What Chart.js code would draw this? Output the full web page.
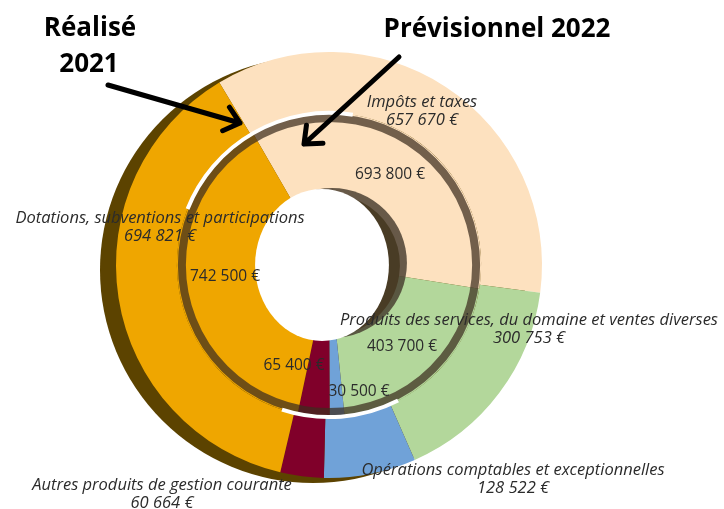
<!DOCTYPE html>
<html>
<head>
<meta charset="utf-8">
<script src="https://cdn.jsdelivr.net/npm/chart.js@4/dist/chart.umd.min.js"></script>
<style>
  html, body { margin: 0; padding: 0; background: #fff; }
  canvas { display: block; }
</style>
</head>
<body>
<canvas id="recettesChart" width="724" height="509"></canvas>
<script>
// Catégories de recettes (ordre horaire à partir des impôts)
var categories = [
    'Impôts et taxes',
    'Produits des services, du domaine et ventes diverses',
    'Opérations comptables et exceptionnelles',
    'Autres produits de gestion courante',
    'Dotations, subventions et participations'
];
var realise2021 = [657670, 300753, 128522, 60664, 694821];       // anneau extérieur
var previsionnel2022 = [693800, 403700, 30500, 65400, 742500];   // anneau intérieur
var couleurs = ['#fde1bf', '#b3d79b', '#70a2d8', '#80002a', '#efa600'];

function euros(v) {
    return v.toString().replace(/\B(?=(\d{3})+(?!\d))/g, ' ') + ' €';
}

// Position des étiquettes : [index catégorie, x, y]
var etiquettesExt = [
    [0, 422, 102],
    [1, 529, 320],
    [2, 513, 470],
    [3, 162, 485],
    [4, 160, 218]
];
var etiquettesInt = [
    [0, 390, 175],
    [1, 402, 347],
    [2, 359, 392],
    [3, 294, 366],
    [4, 225, 277]
];

function fleche(ctx, x1, y1, x2, y2) {
    var a = Math.atan2(y2 - y1, x2 - x1);
    var h = 19;
    ctx.beginPath();
    ctx.moveTo(x1, y1);
    ctx.lineTo(x2, y2);
    ctx.moveTo(x2 - h * Math.cos(a - 0.7), y2 - h * Math.sin(a - 0.7));
    ctx.lineTo(x2, y2);
    ctx.lineTo(x2 - h * Math.cos(a + 0.7), y2 - h * Math.sin(a + 0.7));
    ctx.stroke();
}

var effets3d = {
    id: 'effets3d',
    beforeDatasetsDraw: function (chart) {
        var arc = chart.getDatasetMeta(0).data[0];
        var ctx = chart.ctx;
        ctx.save();
        // épaisseur de l'anneau extérieur (côté gauche)
        ctx.fillStyle = '#5c4300';
        ctx.beginPath();
        ctx.arc(arc.x - 16, arc.y + 5, arc.outerRadius, 0, Math.PI * 2);
        ctx.fill();
        ctx.restore();
    },
    afterDatasetsDraw: function (chart) {
        var ext = chart.getDatasetMeta(0).data[0];
        var int = chart.getDatasetMeta(1).data[0];
        var ctx = chart.ctx;
        var cx = ext.x, cy = ext.y;
        ctx.save();
        // bande sombre au bord de l'anneau intérieur
        ctx.strokeStyle = 'rgba(60,45,30,0.72)';
        ctx.lineWidth = 8;
        ctx.beginPath();
        ctx.arc(cx, cy, int.outerRadius - 5, 0, Math.PI * 2);
        ctx.stroke();
        // liseré blanc entre les deux anneaux
        ctx.strokeStyle = '#ffffff';
        ctx.lineWidth = 4;
        ctx.beginPath();
        ctx.arc(cx, cy, int.outerRadius, Math.PI * 1.12, Math.PI * 1.55);
        ctx.stroke();
        ctx.beginPath();
        ctx.arc(cx, cy, int.outerRadius, Math.PI * 0.35, Math.PI * 0.6);
        ctx.stroke();
        // trou central avec ombre
        ctx.fillStyle = 'rgba(70,58,45,0.82)';
        ctx.beginPath();
        ctx.arc(cx + 3, cy - 2, int.innerRadius + 4, 0, Math.PI * 2);
        ctx.fill();
        ctx.fillStyle = '#ffffff';
        ctx.beginPath();
        ctx.ellipse(cx - 7, cy, int.innerRadius - 4, int.innerRadius + 5, 0, 0, Math.PI * 2);
        ctx.fill();

        // textes des secteurs
        ctx.fillStyle = '#2b2b2b';
        ctx.textAlign = 'center';
        ctx.textBaseline = 'middle';
        etiquettesExt.forEach(function (e) {
            ctx.font = 'italic 16.5px "Open Sans"';
            ctx.fillText(categories[e[0]], e[1], e[2]);
            ctx.fillText(euros(realise2021[e[0]]), e[1], e[2] + 18);
        });
        etiquettesInt.forEach(function (e) {
            ctx.font = '15.5px "Open Sans"';
            ctx.fillText(euros(previsionnel2022[e[0]]), e[1], e[2]);
        });

        // titres et flèches
        ctx.fillStyle = '#000';
        ctx.font = 'bold 26px "Open Sans"';
        ctx.textBaseline = 'alphabetic';
        ctx.fillText('Réalisé', 90, 36);
        ctx.fillText('2021', 89, 72);
        ctx.fillText('Prévisionnel 2022', 497, 37);
        ctx.strokeStyle = '#000';
        ctx.lineWidth = 5;
        ctx.lineCap = 'round';
        ctx.lineJoin = 'round';
        fleche(ctx, 108, 85, 240, 123);
        fleche(ctx, 399, 57, 304, 144);
        ctx.restore();
    }
};

var ctx = document.getElementById('recettesChart').getContext('2d');
var recettesChart = new Chart(ctx, {
    type: 'doughnut',
    data: {
        labels: categories,
        datasets: [
            {
                label: 'Réalisé 2021',
                data: realise2021,
                backgroundColor: couleurs,
                borderWidth: 0,
                weight: 60,
                rotation: -31
            },
            {
                label: 'Prévisionnel 2022',
                data: previsionnel2022,
                backgroundColor: couleurs,
                borderWidth: 0,
                weight: 80,
                rotation: -30
            }
        ]
    },
    options: {
        responsive: false,
        animation: false,
        cutout: '33.3%',
        layout: { padding: { top: 52, bottom: 31, left: 116, right: 182 } },
        plugins: {
            legend: { display: false },
            tooltip: { enabled: false }
        }
    },
    plugins: [effets3d]
});
</script>
</body>
</html>
